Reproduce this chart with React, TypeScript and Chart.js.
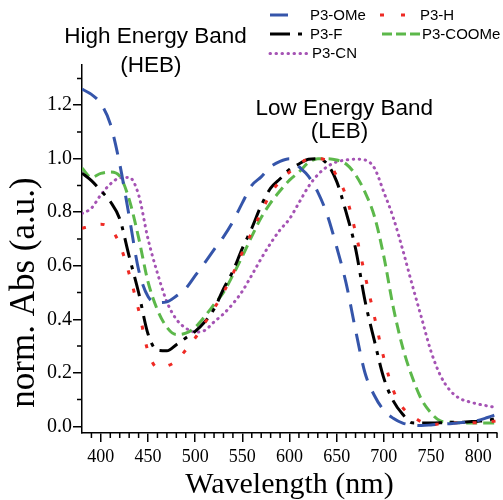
import React, { useEffect, useRef } from "react";
import { Chart, registerables } from "chart.js";

Chart.register(...registerables);

// ---------- data ----------
const wavelengths = [
  380, 390, 400, 410, 420, 430, 440, 450, 460, 470, 480, 490, 500, 510, 520,
  530, 540, 550, 560, 570, 580, 590, 600, 610, 620, 630, 640, 650, 660, 670,
  680, 690, 700, 710, 720, 730, 740, 750, 760, 770, 780, 790, 800, 810, 820,
];

const seriesNames = ["P3-OMe", "P3-H", "P3-F", "P3-COOMe", "P3-CN"];

const omeValues = [
  1.26, 1.24, 1.205, 1.13, 0.98, 0.785, 0.585, 0.485, 0.462, 0.465, 0.487, 0.515,
  0.563, 0.61, 0.66, 0.708, 0.765, 0.835, 0.9, 0.932, 0.97, 0.99, 1.0, 0.97,
  0.935, 0.875, 0.79, 0.67, 0.535, 0.36, 0.2, 0.115, 0.06, 0.03, 0.012, 0.005,
  0.003, 0.005, 0.008, 0.01, 0.013, 0.017, 0.022, 0.033, 0.045,
];

const hValues = [
  0.74, 0.748, 0.755, 0.74, 0.68, 0.57, 0.435, 0.28, 0.22, 0.225, 0.245, 0.285,
  0.33, 0.385, 0.44, 0.5, 0.57, 0.65, 0.725, 0.8, 0.87, 0.915, 0.95, 0.98,
  0.998, 1.0, 0.99, 0.935, 0.86, 0.725, 0.565, 0.41, 0.255, 0.135, 0.07, 0.04,
  0.016, 0.005, 0.01, 0.012, 0.013, 0.013, 0.014, 0.016, 0.02,
];

const fValues = [
  0.946, 0.918, 0.88, 0.84, 0.775, 0.635, 0.5, 0.345, 0.284, 0.282, 0.305, 0.33,
  0.355, 0.39, 0.438, 0.513, 0.58, 0.665, 0.74, 0.825, 0.89, 0.925, 0.96, 0.98,
  0.998, 1.0, 0.98, 0.915, 0.8, 0.665, 0.47, 0.32, 0.18, 0.095, 0.045, 0.013,
  0.012, 0.012, 0.013, 0.015, 0.015, 0.017, 0.019, 0.022, 0.03,
];

const coomeValues = [
  0.965, 0.93, 0.945, 0.95, 0.935, 0.848, 0.705, 0.54, 0.435, 0.37, 0.343, 0.348,
  0.37, 0.41, 0.455, 0.5, 0.565, 0.635, 0.71, 0.78, 0.835, 0.88, 0.92, 0.95,
  0.985, 1.0, 1.0, 0.995, 0.98, 0.94, 0.875, 0.785, 0.635, 0.445, 0.295, 0.185,
  0.1, 0.05, 0.02, 0.015, 0.013, 0.012, 0.012, 0.012, 0.012,
];

const cnValues = [
  0.795, 0.815, 0.865, 0.905, 0.928, 0.93, 0.865, 0.7, 0.572, 0.465, 0.4, 0.367,
  0.352, 0.358, 0.39, 0.42, 0.458, 0.505, 0.565, 0.627, 0.684, 0.734, 0.775,
  0.835, 0.895, 0.94, 0.97, 0.988, 0.995, 0.998, 0.995, 0.965, 0.875, 0.78,
  0.66, 0.53, 0.405, 0.28, 0.19, 0.135, 0.105, 0.092, 0.083, 0.076, 0.07,
];

const seriesValues = [omeValues, hValues, fValues, coomeValues, cnValues];

const xAxisTitle = "Wavelength (nm)";
const yAxisTitle = "norm. Abs (a.u.)";
const hebLabel = ["High Energy Band", "(HEB)"];
const lebLabel = ["Low Energy Band", "(LEB)"];

// ---------- styles ----------
const SERIES_STYLES = [
  { color: "#3555aa", dash: [18, 12], cap: "butt", legendDash: [18, 12], legendLen: 30 },
  { color: "#ee2a24", dash: [4, 15], cap: "butt", legendDash: [4, 17], legendLen: 26 },
  { color: "#000000", dash: [20, 8, 4, 8], cap: "butt", legendDash: [20, 8, 4, 8], legendLen: 32 },
  { color: "#5cb84a", dash: [11, 6], cap: "butt", legendDash: [10, 4], legendLen: 38 },
  { color: "#a553b4", dash: [0.5, 5.5], cap: "round", legendDash: [0.5, 5.5], legendLen: 38 },
];

const LEGEND_POS = [
  { x: 270, y: 15, tx: 310 },
  { x: 380, y: 15, tx: 420 },
  { x: 270, y: 34, tx: 310 },
  { x: 382, y: 34, tx: 422 },
  { x: 270, y: 53.5, tx: 312 },
];

const SERIF = '"Liberation Serif", "Times New Roman", serif';
const SANS = '"Liberation Sans", Arial, sans-serif';

const extrasPlugin = {
  id: "extras",
  afterDraw(chart: any) {
    const ctx = chart.ctx;
    const xs = chart.scales.x;
    const ys = chart.scales.y;
    ctx.save();
    // minor ticks
    ctx.strokeStyle = "#000";
    ctx.lineWidth = 1.5;
    ctx.setLineDash([]);
    ctx.beginPath();
    for (let v = 390; v <= 820; v += 10) {
      if (v % 50 === 0) continue;
      const px = xs.getPixelForValue(v);
      ctx.moveTo(px, xs.top);
      ctx.lineTo(px, xs.top + 5);
    }
    for (let k = 1; k <= 13; k += 2) {
      const py = ys.getPixelForValue(k / 10);
      ctx.moveTo(ys.right - 5, py);
      ctx.lineTo(ys.right, py);
    }
    ctx.stroke();

    // y axis title
    ctx.save();
    ctx.fillStyle = "#000";
    ctx.font = "35px " + SERIF;
    ctx.textAlign = "center";
    ctx.textBaseline = "middle";
    ctx.translate(25, ys.getPixelForValue(0.5));
    ctx.rotate(-Math.PI / 2);
    ctx.fillText(yAxisTitle, 0, 0);
    ctx.restore();

    // band annotations
    ctx.fillStyle = "#000";
    ctx.font = "22.5px " + SANS;
    ctx.textAlign = "center";
    ctx.textBaseline = "alphabetic";
    ctx.fillText(hebLabel[0], xs.getPixelForValue(458), ys.getPixelForValue(1.434));
    ctx.fillText(hebLabel[1], xs.getPixelForValue(453), ys.getPixelForValue(1.325));
    ctx.fillText(lebLabel[0], xs.getPixelForValue(658), ys.getPixelForValue(1.163));
    ctx.fillText(lebLabel[1], xs.getPixelForValue(653), ys.getPixelForValue(1.076));

    // legend
    ctx.font = "15px " + SANS;
    ctx.textAlign = "left";
    ctx.textBaseline = "middle";
    seriesNames.forEach((name, i) => {
      const st = SERIES_STYLES[i];
      const p = LEGEND_POS[i];
      ctx.strokeStyle = st.color;
      ctx.lineWidth = 3;
      ctx.lineCap = st.cap;
      ctx.setLineDash(st.legendDash);
      ctx.beginPath();
      ctx.moveTo(p.x, p.y);
      ctx.lineTo(p.x + st.legendLen, p.y);
      ctx.stroke();
      ctx.setLineDash([]);
      ctx.fillStyle = "#000";
      ctx.fillText(name, p.tx, p.y + 0.5);
    });
    ctx.restore();
  },
};

export default function App() {
  const ref = useRef<HTMLCanvasElement>(null);

  useEffect(() => {
    const canvas = ref.current;
    if (!canvas) return;
    const datasets = seriesValues.map((vals, i) => ({
      label: seriesNames[i],
      data: wavelengths.map((w, j) => ({ x: w, y: vals[j] })),
      borderColor: SERIES_STYLES[i].color,
      backgroundColor: SERIES_STYLES[i].color,
      borderWidth: 3,
      borderDash: SERIES_STYLES[i].dash,
      borderCapStyle: SERIES_STYLES[i].cap,
      pointRadius: 0,
      pointHoverRadius: 0,
      fill: false,
      cubicInterpolationMode: "monotone",
    }));

    const chart = new Chart(canvas, {
      type: "line",
      data: { datasets } as any,
      options: {
        animation: false,
        responsive: false,
        events: [],
        layout: { padding: { left: 0, right: 6, top: 65, bottom: 0 } },
        plugins: {
          legend: { display: false },
          tooltip: { enabled: false },
        },
        scales: {
          x: {
            type: "linear",
            min: 380,
            max: 820,
            afterFit: (scale: any) => {
              scale.height = 67;
            },
            ticks: {
              stepSize: 50,
              includeBounds: false,
              color: "#000",
              padding: 4,
              font: { family: SERIF, size: 18 },
              maxRotation: 0,
              autoSkip: false,
              callback: (v: any) => String(v),
            },
            grid: {
              display: true,
              drawOnChartArea: false,
              drawTicks: true,
              tickLength: 9,
              color: "#000",
              lineWidth: 1.5,
            },
            border: { display: true, color: "#000", width: 1.5 },
            title: {
              display: true,
              text: xAxisTitle,
              color: "#000",
              font: { family: SERIF, size: 30, lineHeight: 1 },
              padding: { top: 0, bottom: 0 },
            },
          },
          y: {
            type: "linear",
            min: -0.025,
            max: 1.35,
            afterFit: (scale: any) => {
              scale.width = 82;
            },
            ticks: {
              stepSize: 0.2,
              includeBounds: false,
              color: "#000",
              padding: 1,
              font: { family: SERIF, size: 20 },
              autoSkip: false,
              callback: (v: any) => Number(v).toFixed(1),
            },
            grid: {
              display: true,
              drawOnChartArea: false,
              drawTicks: true,
              tickLength: 9,
              color: "#000",
              lineWidth: 1.5,
            },
            border: { display: true, color: "#000", width: 1.5 },
            title: { display: false },
          },
        },
      } as any,
      plugins: [extrasPlugin],
    });

    return () => chart.destroy();
  }, []);

  return (
    <div style={{ position: "absolute", left: 0, top: 0, width: 503, height: 500 }}>
      <canvas ref={ref} width={503} height={500} style={{ width: 503, height: 500, display: "block" }} />
    </div>
  );
}
